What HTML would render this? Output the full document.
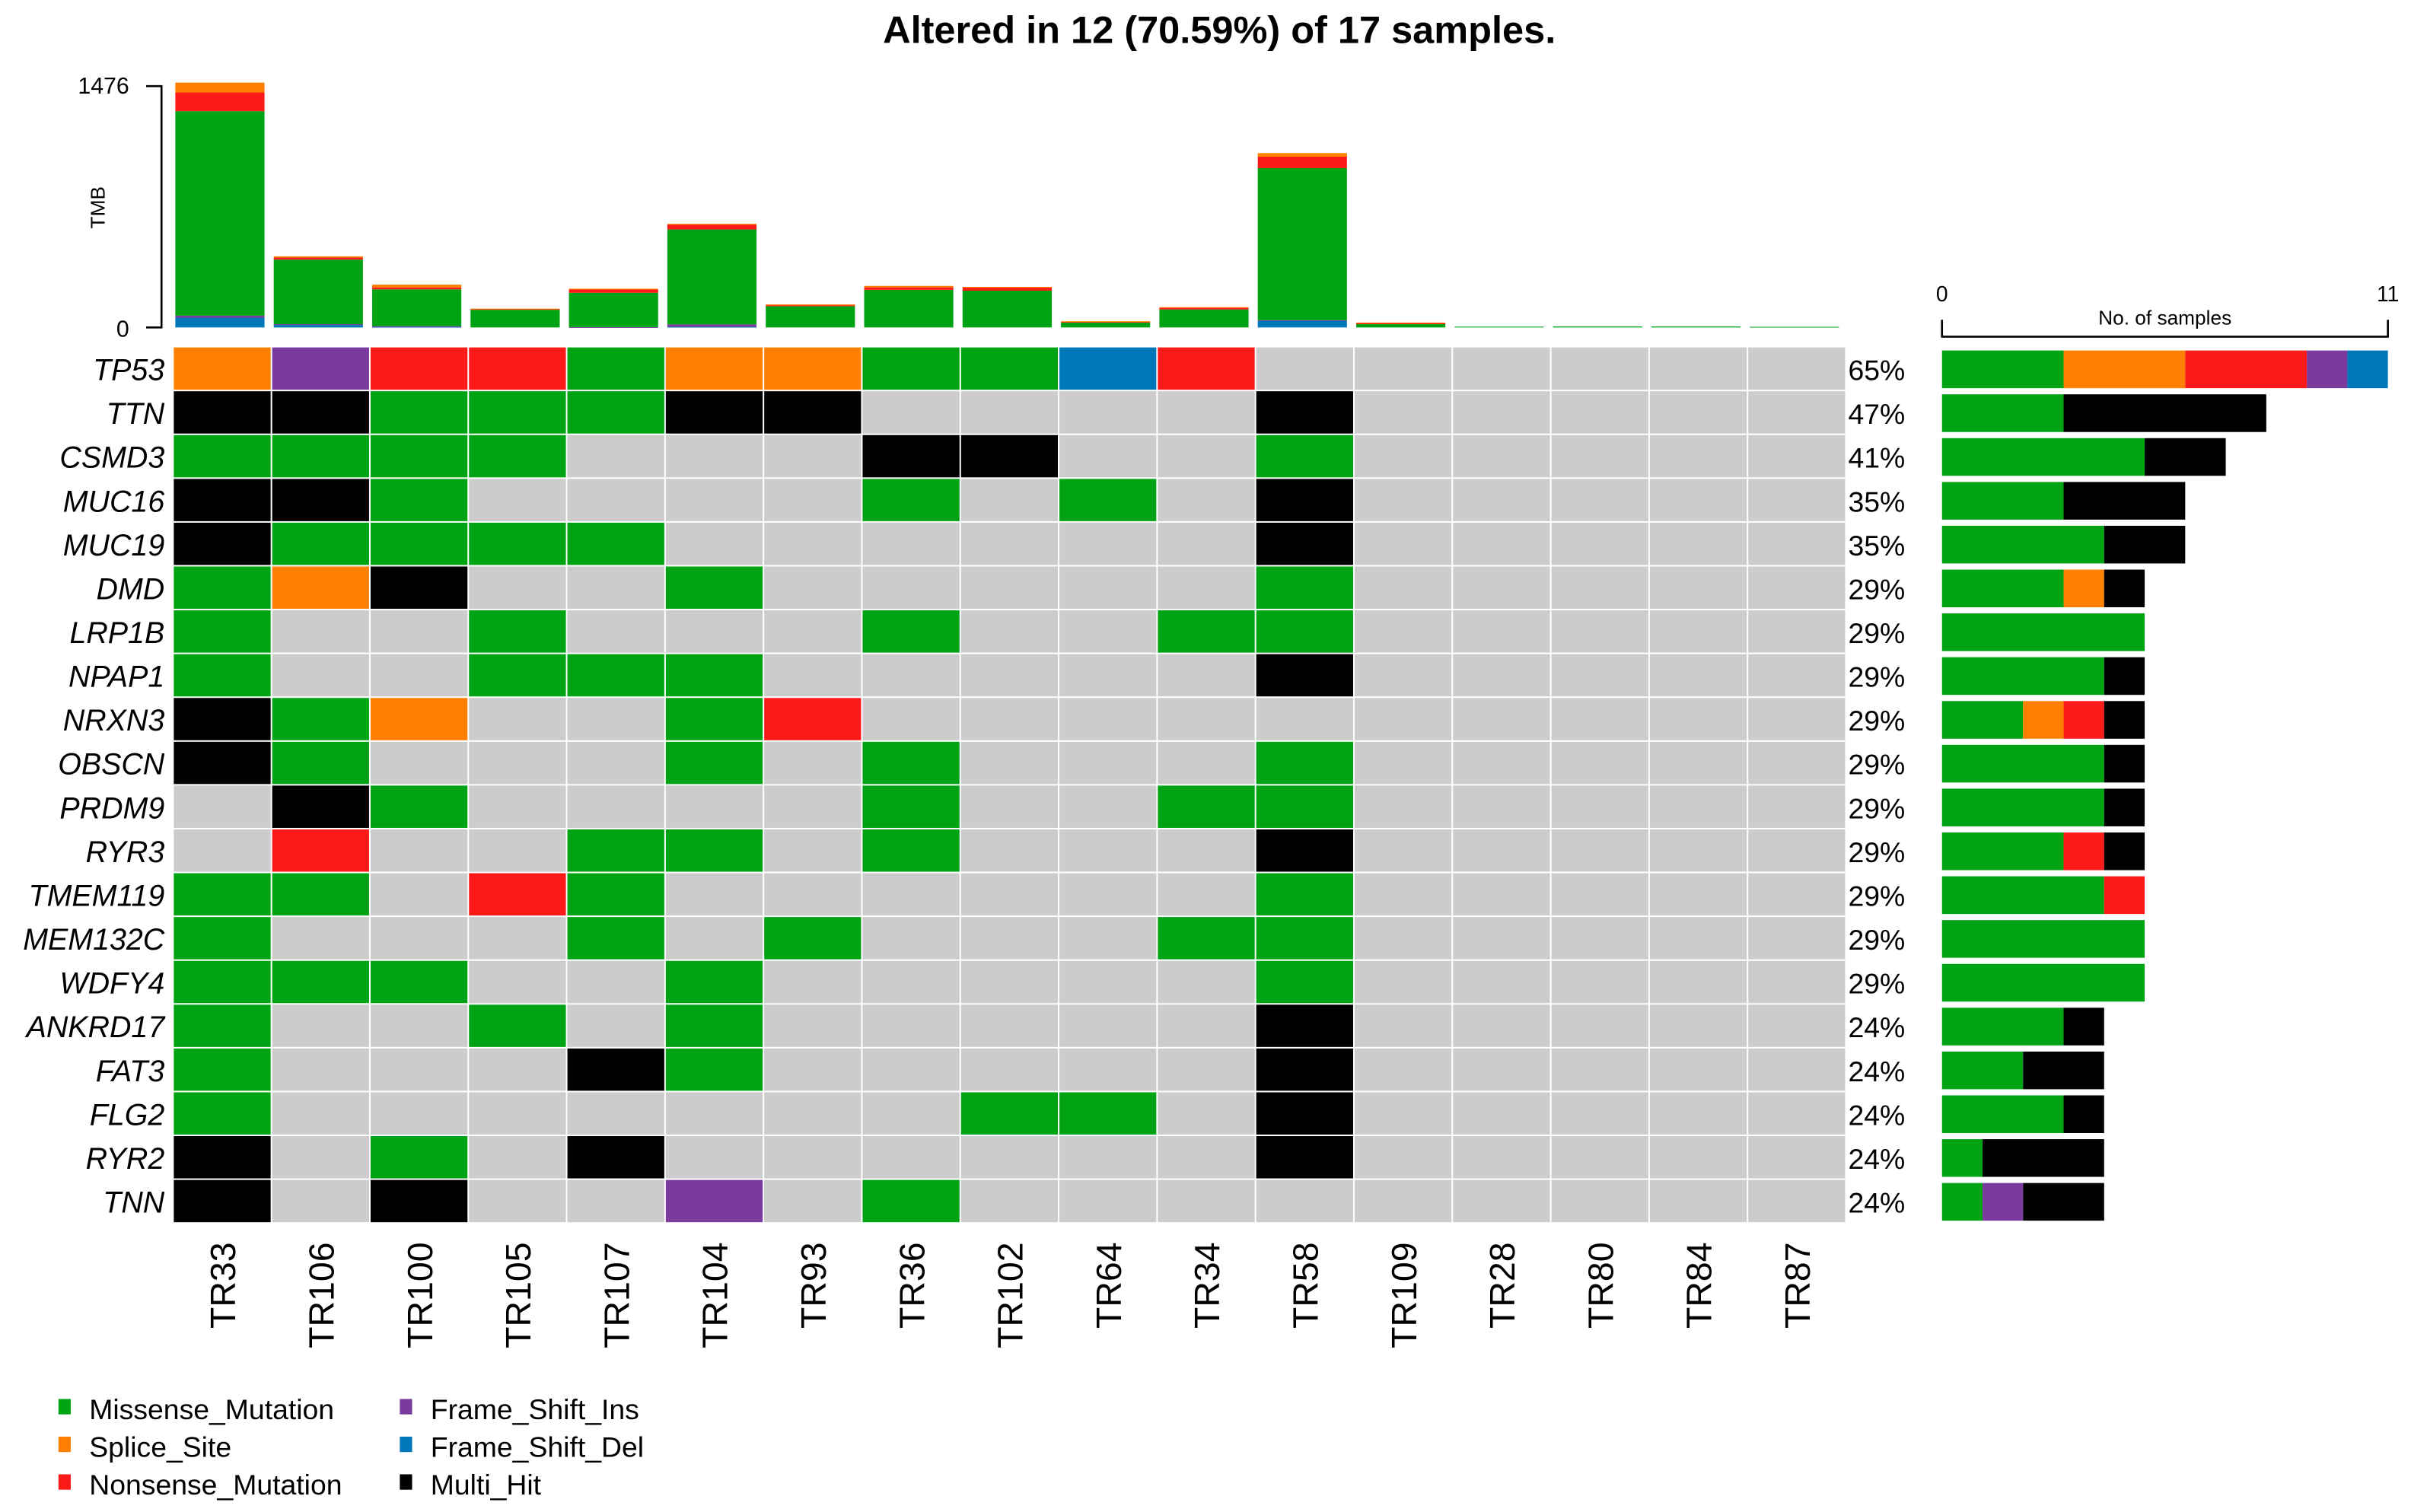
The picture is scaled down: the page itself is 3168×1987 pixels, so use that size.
<!DOCTYPE html>
<html><head><meta charset="utf-8"><style>
html,body{margin:0;padding:0;background:#fff}
svg{display:block;font-family:"Liberation Sans",Arial,sans-serif}
</style></head><body>
<svg id="chart" width="3168" height="1987" viewBox="0 0 1568 983.5" xmlns="http://www.w3.org/2000/svg">
<text x="793" y="28" text-anchor="middle" font-size="25" font-weight="bold">Altered in 12 (70.59%) of 17 samples.</text>
<g id="tmb"></g>
<g id="grid"></g>
<g id="right"></g>
<g id="legend"></g>
</svg>
<script>
const samples = ["TR33","TR106","TR100","TR105","TR107","TR104","TR93","TR36","TR102","TR64","TR34","TR58","TR109","TR28","TR80","TR84","TR87"];
const genes = ["TP53","TTN","CSMD3","MUC16","MUC19","DMD","LRP1B","NPAP1","NRXN3","OBSCN","PRDM9","RYR3","TMEM119","MEM132C","WDFY4","ANKRD17","FAT3","FLG2","RYR2","TNN"];
// grid codes: M missense, S splice, N nonsense, I FS ins, D FS del, H multi hit, . none
const gridRows = [
"SINNMSSMMDN......",
"HHMMMHH....H.....",
"MMMM...HH..M.....",
"HHM....M.M.H.....",
"HMMMM......H.....",
"MSH..M.....M.....",
"M..M...M..MM.....",
"M..MMM.....H.....",
"HMS..MN..........",
"HM...M.M...M.....",
".HM....M..MM.....",
".N..MM.M...H.....",
"MM.NM......M.....",
"M...M.M...MM.....",
"MMM..M.....M.....",
"M..M.M.....H.....",
"M...HM.....H.....",
"M.......MM.H.....",
"H.M.H......H.....",
"H.H..I.M........."];
// TMB stacked values per sample
const tmbFSD = [60,15,4,0,0,4,0,0,0,0,0,40,0,0,0,0,0];
const tmbFSI = [12,5,4,0,2,15,0,0,0,0,0,4,0,0,0,0,0];
const tmbMissense = [1250,395,225,108,210,580,130,230,225,30,110,930,20,5,6,6,4];
const tmbNonsense = [115,12,12,5,20,30,6,15,20,5,12,70,8,0,0,0,0];
const tmbSplice = [60,8,17,2,5,5,5,9,3,3,2,22,2,0,0,0,0];
const tmbMax = 1476;
const types = ["M","S","N","I","D","H"];
const colors = {M:"#00A313",S:"#FF7F00",N:"#FF1A1A",I:"#7A3A9E",D:"#0077B8",H:"#000000"};
const legendLabels = ["Missense_Mutation","Splice_Site","Nonsense_Mutation","Frame_Shift_Ins","Frame_Shift_Del","Multi_Hit"];

const NS="http://www.w3.org/2000/svg";
function mk(tag, attrs, parent){const e=document.createElementNS(NS,tag);for(const k in attrs)e.setAttribute(k,attrs[k]);parent.appendChild(e);return e;}

const gx0=113, colW=64, gy0=226, rowH=28.5;
const xCol = i => gx0 + i*colW;
const yRow = j => gy0 + j*rowH;

// TMB panel
const tmb=document.getElementById('tmb');
const ty0=213, ty1=56;
const yT = v => ty0 - (v/tmbMax)*(ty0-ty1);
let ax=mk('path',{d:`M95 ${ty1}H105V${ty0}H95`,fill:'none',stroke:'#000','stroke-width':1.3},tmb);

let t1=mk('text',{x:84,y:ty1+5,'text-anchor':'end','font-size':15},tmb);t1.textContent=String(tmbMax);

let t0=mk('text',{x:84,y:ty0+6,'text-anchor':'end','font-size':15},tmb);t0.textContent='0';

let tl=mk('text',{x:0,y:0,transform:'translate(68,135) rotate(-90)','text-anchor':'middle','font-size':13},tmb);tl.textContent='TMB';

const tmbSeries=[[tmbFSD,'D'],[tmbFSI,'I'],[tmbMissense,'M'],[tmbNonsense,'N'],[tmbSplice,'S']];
samples.forEach((s,i)=>{
  let cum=0;
  tmbSeries.forEach(([arr,t])=>{
    const v=arr[i]; if(!v) return;
    const yTop=yT(cum+v), yBot=yT(cum);
    const r=mk('rect',{x:xCol(i)+1,y:yTop,width:colW-6,height:Math.max(yBot-yTop,0.5),fill:colors[t]},tmb);
    
    
    cum+=v;
  });
});

// grid
const grid=document.getElementById('grid');
genes.forEach((g,j)=>{
  const lab=mk('text',{x:107,y:yRow(j)+rowH/2+7,'text-anchor':'end','font-size':19.5,'font-style':'italic'},grid);
  lab.textContent=g;
  
  
  let cnt=0;
  samples.forEach((s,i)=>{
    const c=gridRows[j][i];
    if(c!=='.')cnt++;
    const r=mk('rect',{x:xCol(i),y:yRow(j),width:colW-1,height:rowH-1,fill:c==='.'?'#CCCCCC':colors[c]},grid);
    
    
  });
  const p=mk('text',{x:1202,y:yRow(j)+rowH/2+7,'font-size':18.5},grid);
  p.textContent=Math.round(cnt/samples.length*100)+'%';
  
  
});
samples.forEach((s,i)=>{
  const cx=xCol(i)+colW/2;
  const t=mk('text',{x:0,y:0,transform:`translate(${cx+8},808) rotate(-90)`,'text-anchor':'end','font-size':23},grid);
  t.textContent=s;
  
  
});

// right bar chart
const right=document.getElementById('right');
const rx0=1263, rMax=11, rx1=1553;
const xR = v => rx0 + v/rMax*(rx1-rx0);
let rax=mk('path',{d:`M${rx0} 208V219H${rx1}V208`,fill:'none',stroke:'#000','stroke-width':1.3},right);

let r0=mk('text',{x:rx0,y:196,'text-anchor':'middle','font-size':14},right);r0.textContent='0';

let r1=mk('text',{x:rx1,y:196,'text-anchor':'middle','font-size':14},right);r1.textContent=String(rMax);

let rt=mk('text',{x:(rx0+rx1)/2,y:211,'text-anchor':'middle','font-size':13},right);rt.textContent='No. of samples';

genes.forEach((g,j)=>{
  let cum=0;
  types.forEach(t=>{
    const n=[...gridRows[j]].filter(c=>c===t).length;
    if(!n)return;
    const r=mk('rect',{x:xR(cum),y:yRow(j)+2,width:xR(cum+n)-xR(cum),height:rowH-4,fill:colors[t]},right);
    
    
    cum+=n;
  });
});

// legend
const lg=document.getElementById('legend');
types.forEach((t,k)=>{
  const col=Math.floor(k/3), row=k%3;
  const x=col?260:38, y=916+row*24.5;
  const sq=mk('rect',{x:x,y:y-6,width:8,height:10,fill:colors[t]},lg);
  
  
  const tx=mk('text',{x:x+20,y:y+7,'font-size':18.5},lg);
  tx.textContent=legendLabels[k];
  
  
});
</script>
</body></html>
